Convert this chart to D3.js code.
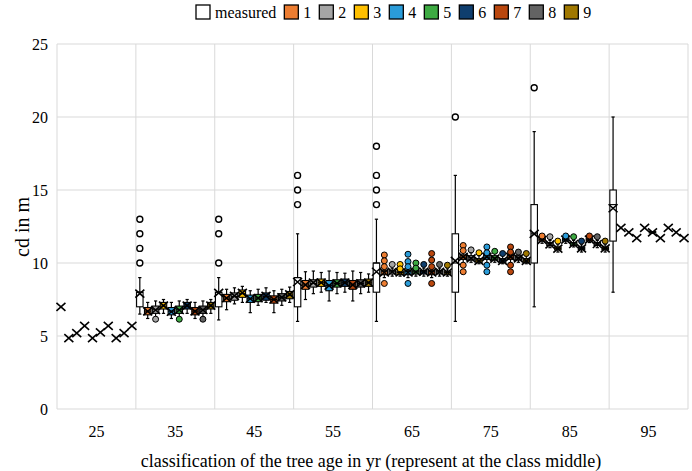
<!DOCTYPE html>
<html>
<head>
<meta charset="utf-8">
<title>cd by tree age class</title>
<script src="https://d3js.org/d3.v7.min.js"></script>
<style>
  body { margin: 0; background: #fff; }
  svg text { font-family: "Liberation Serif", "Times New Roman", serif; fill: #000; }
</style>
</head>
<body>
<svg id="chart" width="692" height="471"></svg>
<script>
// categories along x (class middles) and the series inside each class
const categories = ["25", "35", "45", "55", "65", "75", "85", "95"];
const seriesNames = ["measured", "1", "2", "3", "4", "5", "6", "7", "8", "9"];
const seriesColors = ["#ffffff", "#ED7D31", "#A5A5A5", "#FFC000", "#2A9CD9", "#3DAA42",
                      "#0F3E6E", "#BA470E", "#636363", "#A07800"];
const yTicks = [0, 5, 10, 15, 20, 25];

// one row per series: [low whisker, q1, median, q3, high whisker, mean]
// a single number means the class holds just one value
const box25 = [[7], [4.85], [5.2], [5.7], [4.85], [5.25], [5.7], [4.85], [5.2], [5.7]];
const box35 = [
  [6.5, 7, 8, 8, 9, 7.9],
  [6.2, 6.45, 6.7, 6.95, 7.3, 6.68],
  [6.3, 6.55, 6.8, 7.05, 7.4, 6.78],
  [6.55, 6.85, 7.05, 7.3, 7.5, 7.08],
  [6.2, 6.45, 6.7, 6.95, 7.3, 6.66],
  [6.3, 6.55, 6.8, 7.05, 7.4, 6.78],
  [6.55, 6.85, 7.05, 7.3, 7.5, 7.08],
  [6.2, 6.45, 6.7, 6.95, 7.3, 6.68],
  [6.3, 6.55, 6.8, 7.05, 7.4, 6.78],
  [6.55, 6.85, 7.05, 7.3, 7.5, 7.08]
];
const box45 = [
  [6.1, 7, 8, 8, 9, 7.95],
  [6.8, 7.35, 7.6, 7.85, 8.2, 7.6],
  [7.2, 7.45, 7.7, 7.95, 8.3, 7.75],
  [7.3, 7.65, 7.9, 8.15, 8.4, 7.95],
  [6.6, 7.3, 7.55, 7.8, 8.1, 7.55],
  [7.1, 7.35, 7.6, 7.85, 8.2, 7.6],
  [7.3, 7.45, 7.7, 7.95, 8.3, 7.75],
  [6.6, 7.25, 7.5, 7.75, 8.1, 7.5],
  [7.1, 7.4, 7.65, 7.9, 8.2, 7.65],
  [7.3, 7.55, 7.8, 8.05, 8.35, 7.85]
];
const box55 = [
  [6, 7, 9, 9, 12, 8.7],
  [7.5, 8.2, 8.5, 8.8, 9.4, 8.5],
  [7.9, 8.35, 8.6, 8.85, 9.45, 8.65],
  [8.0, 8.4, 8.65, 8.9, 9.35, 8.65],
  [7.4, 8.1, 8.45, 8.8, 9.45, 8.45],
  [7.9, 8.35, 8.6, 8.85, 9.35, 8.6],
  [8.0, 8.4, 8.65, 8.9, 9.3, 8.65],
  [7.4, 8.2, 8.5, 8.8, 9.45, 8.5],
  [7.9, 8.35, 8.6, 8.85, 9.35, 8.6],
  [8.0, 8.4, 8.65, 8.9, 9.25, 8.65]
];
const box65 = [
  [6, 8, 10, 10, 13, 9.4],
  [9.0, 9.2, 9.4, 9.5, 9.6, 9.35],
  [9.1, 9.25, 9.4, 9.5, 9.65, 9.4],
  [9.1, 9.2, 9.35, 9.45, 9.5, 9.35],
  [9.0, 9.2, 9.4, 9.5, 9.6, 9.35],
  [9.1, 9.25, 9.4, 9.5, 9.55, 9.4],
  [9.1, 9.25, 9.4, 9.5, 9.65, 9.4],
  [9.0, 9.2, 9.4, 9.5, 9.6, 9.35],
  [9.1, 9.25, 9.4, 9.5, 9.65, 9.4],
  [9.1, 9.2, 9.35, 9.45, 9.6, 9.35]
];
const box75 = [
  [6, 8, 10, 12, 16, 10.15],
  [10.0, 10.25, 10.4, 10.55, 10.75, 10.42],
  [10.05, 10.2, 10.35, 10.5, 10.7, 10.32],
  [9.95, 10.05, 10.15, 10.3, 10.5, 10.15],
  [10.0, 10.25, 10.4, 10.55, 10.75, 10.42],
  [10.05, 10.2, 10.35, 10.5, 10.7, 10.3],
  [9.95, 10.05, 10.15, 10.3, 10.5, 10.15],
  [10.0, 10.25, 10.4, 10.55, 10.75, 10.42],
  [10.05, 10.2, 10.35, 10.5, 10.7, 10.32],
  [9.95, 10.05, 10.15, 10.3, 10.5, 10.15]
];
const box85 = [
  [7, 10, 12, 14, 19, 12],
  [11.35, 11.5, 11.6, 11.7, 11.8, 11.58],
  [11.05, 11.2, 11.3, 11.4, 11.55, 11.28],
  [10.75, 10.9, 11.0, 11.1, 11.25, 10.99],
  [11.35, 11.5, 11.6, 11.7, 11.85, 11.6],
  [11.1, 11.2, 11.3, 11.4, 11.55, 11.3],
  [10.75, 10.9, 11.0, 11.1, 11.25, 11.0],
  [11.4, 11.5, 11.6, 11.7, 11.85, 11.6],
  [11.05, 11.2, 11.3, 11.4, 11.55, 11.3],
  [10.75, 10.9, 11.0, 11.1, 11.25, 11.0]
];
const box95 = [
  [8, 11.5, 14, 15, 20, 13.75],
  [12.4], [12.1], [11.7], [12.4],
  [12.05, 12.05, 12.1, 12.15, 12.15, 12.1],
  [11.7], [12.4], [12.1], [11.7]
];

// outliers per class: [series index, value]
const out25 = [];
const out35 = [[0, 10], [0, 11], [0, 12], [0, 13], [2, 6.15], [5, 6.15], [8, 6.15]];
const out45 = [[0, 10], [0, 12], [0, 13]];
const out55 = [[0, 14], [0, 15], [0, 16]];
const out65 = [[0, 14], [0, 15], [0, 16], [0, 18],
  [1, 10.55], [1, 10.15], [1, 9.75], [1, 8.6], [2, 9.9], [3, 9.9], [3, 9.6],
  [4, 10.6], [4, 10.1], [4, 9.75], [4, 8.6], [5, 10.0], [5, 9.65], [6, 9.9],
  [7, 10.65], [7, 10.2], [7, 9.75], [7, 8.6], [8, 9.9], [9, 9.85]];
const out75 = [[0, 20],
  [1, 11.2], [1, 10.85], [1, 9.85], [1, 9.4], [2, 10.9], [3, 10.7],
  [4, 11.1], [4, 10.7], [4, 9.85], [4, 9.4], [5, 10.8], [6, 10.65],
  [7, 11.1], [7, 10.75], [7, 9.85], [7, 9.4], [8, 10.75], [9, 10.65]];
const out85 = [[0, 22], [1, 11.85], [2, 11.8], [3, 11.5], [4, 11.85], [5, 11.8],
  [6, 11.5], [7, 11.85], [8, 11.8], [9, 11.5]];
const out95 = [];

const boxTable = [box25, box35, box45, box55, box65, box75, box85, box95];
const outTable = [out25, out35, out45, out55, out65, out75, out85, out95];

const svg = d3.select("#chart");
const plotLeft = 57, plotRight = 688, plotTop = 44, plotBottom = 409;

const x0 = d3.scaleBand().domain(categories).range([plotLeft, plotRight]);
const x1 = d3.scaleBand().domain(seriesNames).range([0, x0.bandwidth()])
  .paddingInner(0.18).paddingOuter(0.09);
const y = d3.scaleLinear().domain([0, 25]).range([plotBottom, plotTop]);

// grid
const grid = svg.append("g");
grid.selectAll("line.h").data(yTicks).join("line")
  .attr("x1", plotLeft).attr("x2", plotRight)
  .attr("y1", d => y(d)).attr("y2", d => y(d))
  .attr("stroke", "#d9d9d9").attr("stroke-width", 1);
grid.selectAll("line.v").data(categories.concat(["end"])).join("line")
  .attr("x1", d => d === "end" ? plotRight : x0(d)).attr("x2", d => d === "end" ? plotRight : x0(d))
  .attr("y1", plotTop).attr("y2", plotBottom)
  .attr("stroke", "#d9d9d9").attr("stroke-width", 1);

// axes (labels only)
const yAxis = svg.append("g").attr("transform", "translate(" + plotLeft + ",0)")
  .call(d3.axisLeft(y).tickValues(yTicks).tickSize(0).tickPadding(9));
yAxis.select(".domain").remove();
yAxis.selectAll("text").style("font-size", "16px").style("font-family", "Liberation Serif");

const xAxis = svg.append("g").attr("transform", "translate(0," + plotBottom + ")")
  .call(d3.axisBottom(x0).tickSize(0).tickPadding(17));
xAxis.select(".domain").remove();
xAxis.selectAll("text").style("font-size", "16px").style("font-family", "Liberation Serif");

svg.append("text")
  .attr("x", 371).attr("y", 467)
  .attr("text-anchor", "middle").style("font-size", "18px")
  .text("classification of the tree age in yr (represent at the class middle)");

svg.append("text")
  .attr("transform", "translate(29,227) rotate(-90)")
  .attr("text-anchor", "middle").style("font-size", "20px")
  .text("cd in m");

// boxes
const bw = x1.bandwidth();
const plot = svg.append("g");
boxTable.forEach(function(rows, ci) {
  rows.forEach(function(r, si) {
    const s = r.length === 1 ? [r[0], r[0], r[0], r[0], r[0], r[0]] : r;
    const cx = x0(categories[ci]) + x1(seriesNames[si]) + bw / 2;
    const g = plot.append("g");
    if (s[4] > s[0]) {
      g.append("line").attr("x1", cx).attr("x2", cx)
        .attr("y1", y(s[0])).attr("y2", y(s[4]))
        .attr("stroke", "#000").attr("stroke-width", 1.2);
      [s[0], s[4]].forEach(function(v) {
        g.append("line").attr("x1", cx - bw * 0.25).attr("x2", cx + bw * 0.25)
          .attr("y1", y(v)).attr("y2", y(v))
          .attr("stroke", "#000").attr("stroke-width", 1.2);
      });
    }
    if (s[3] > s[1]) {
      g.append("rect").attr("x", cx - bw / 2).attr("width", bw)
        .attr("y", y(s[3])).attr("height", y(s[1]) - y(s[3]))
        .attr("fill", seriesColors[si]).attr("stroke", "#000").attr("stroke-width", 1.1);
      g.append("line").attr("x1", cx - bw / 2).attr("x2", cx + bw / 2)
        .attr("y1", y(s[2])).attr("y2", y(s[2]))
        .attr("stroke", "#000").attr("stroke-width", 1.1);
    }
    // mean marker
    const my = y(s[5]);
    g.append("path")
      .attr("d", "M" + (cx - 4.5) + "," + (my - 4) + "L" + (cx + 4.5) + "," + (my + 4) +
                 "M" + (cx - 4.5) + "," + (my + 4) + "L" + (cx + 4.5) + "," + (my - 4))
      .attr("stroke", "#000").attr("stroke-width", 1.6).attr("fill", "none");
  });
});

// outliers on top
outTable.forEach(function(list, ci) {
  plot.selectAll(null).data(list).join("circle")
    .attr("cx", d => x0(categories[ci]) + x1(seriesNames[d[0]]) + bw / 2)
    .attr("cy", d => y(d[1]))
    .attr("r", 3)
    .attr("fill", d => seriesColors[d[0]])
    .attr("stroke", "#000").attr("stroke-width", d => d[0] === 0 ? 1.4 : 1);
});

// legend
const legend = svg.append("g").attr("transform", "translate(196,0)");
let lx = 0;
seriesNames.forEach(function(name, i) {
  legend.append("rect").attr("x", lx).attr("y", 5).attr("width", 14).attr("height", 14)
    .attr("fill", seriesColors[i]).attr("stroke", "#000").attr("stroke-width", 1.3);
  const t = legend.append("text").attr("x", lx + 19).attr("y", 18)
    .style("font-size", "16px").text(name);
  lx += 19 + t.node().getComputedTextLength() + 8;
});
</script>
</body>
</html>
